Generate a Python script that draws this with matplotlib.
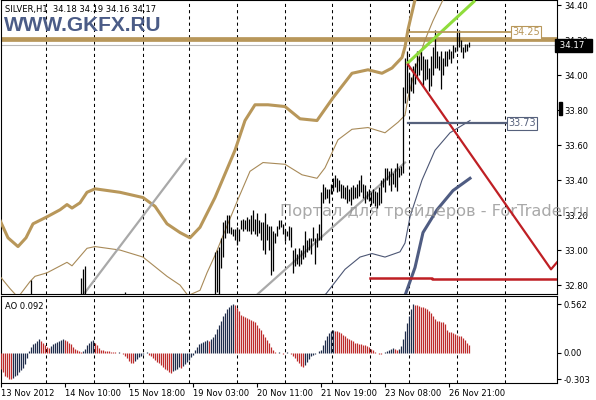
import matplotlib
matplotlib.use('Agg')
import matplotlib.pyplot as plt
import matplotlib.transforms as mtransforms
import numpy as np

plt.rcParams['font.family'] = ['DejaVu Sans']

# ---- price bars (H1), bar index 0..234 ----
highs = [
    32.50, 32.46, 32.42, 32.40, 32.38, 32.36, 32.38, 32.40, 32.42, 32.45,
    32.48, 32.52, 32.55, 32.60, 32.64, 32.83, 32.70, 32.68, 32.70, 32.72,
    32.68, 32.66, 32.64, 32.62, 32.65, 32.66, 32.68, 32.70, 32.71, 32.72,
    32.73, 32.72, 32.70, 32.68, 32.66, 32.64, 32.62, 32.62, 32.64, 32.70,
    32.84, 32.89, 32.91, 32.74, 32.72, 32.70, 32.68, 32.66, 32.64, 32.64,
    32.64, 32.65, 32.64, 32.65, 32.66, 32.65, 32.64, 32.66, 32.65, 32.64,
    32.66, 32.70, 32.76, 32.62, 32.58, 32.55, 32.52, 32.54, 32.56, 32.58,
    32.62, 32.63, 32.64, 32.62, 32.58, 32.55, 32.52, 32.50, 32.48, 32.46,
    32.44, 32.42, 32.40, 32.38, 32.40, 32.42, 32.44, 32.46, 32.44, 32.48,
    32.46, 32.50, 32.54, 32.58, 32.62, 32.64, 32.66, 32.68, 32.70, 32.69,
    32.70, 32.72, 32.71, 32.73, 32.72, 32.74, 32.74, 32.99, 33.00, 33.02,
    33.07, 33.16, 33.17, 33.20, 33.20, 33.13, 33.12, 33.12, 33.13, 33.12,
    33.17, 33.18, 33.17, 33.19, 33.18, 33.20, 33.23, 33.18, 33.21, 33.17,
    33.16, 33.16, 33.21, 33.15, 33.14, 33.14, 33.11, 33.10, 33.14, 33.17,
    33.17, 33.15, 33.12, 33.11, 33.14, 33.13, 33.00, 33.01, 32.98, 33.01,
    33.00, 33.03, 33.11, 33.06, 33.07, 33.07, 33.13, 33.07, 33.10, 33.15,
    33.33, 33.38, 33.36, 33.35, 33.35, 33.38, 33.41, 33.43, 33.41, 33.40,
    33.38, 33.37, 33.36, 33.37, 33.35, 33.36, 33.37, 33.36, 33.38, 33.40,
    33.43, 33.38, 33.37, 33.34, 33.35, 33.33, 33.35, 33.34, 33.33, 33.36,
    33.40, 33.41, 33.47, 33.47, 33.45, 33.47, 33.44, 33.47, 33.50, 33.47,
    33.48, 33.93, 34.10, 34.14, 34.01, 33.99, 34.05, 34.07, 34.14, 34.11,
    34.14, 34.11, 34.09, 34.09, 34.04, 34.11, 34.16, 34.26, 34.14, 34.11,
    34.14, 34.10, 34.14, 34.14, 34.15, 34.14, 34.17, 34.16, 34.25, 34.26,
    34.20, 34.16, 34.18, 34.18, 34.19,
]
lows = [
    32.40, 32.36, 32.33, 32.30, 32.28, 32.27, 32.29, 32.31, 32.34, 32.36,
    32.40, 32.44, 32.47, 32.52, 32.56, 32.62, 32.61, 32.60, 32.62, 32.63,
    32.58, 32.57, 32.56, 32.55, 32.57, 32.58, 32.60, 32.62, 32.63, 32.64,
    32.65, 32.63, 32.61, 32.59, 32.57, 32.56, 32.54, 32.55, 32.57, 32.62,
    32.66, 32.70, 32.72, 32.64, 32.63, 32.62, 32.60, 32.58, 32.57, 32.57,
    32.57, 32.58, 32.57, 32.58, 32.59, 32.58, 32.57, 32.58, 32.58, 32.57,
    32.58, 32.60, 32.62, 32.52, 32.49, 32.46, 32.44, 32.46, 32.48, 32.50,
    32.54, 32.56, 32.57, 32.54, 32.50, 32.47, 32.44, 32.42, 32.40, 32.38,
    32.36, 32.34, 32.32, 32.31, 32.33, 32.35, 32.37, 32.39, 32.36, 32.40,
    32.38, 32.42, 32.46, 32.50, 32.54, 32.56, 32.58, 32.60, 32.62, 32.61,
    32.62, 32.64, 32.63, 32.65, 32.64, 32.66, 32.66, 32.68, 32.76, 32.74,
    32.90, 32.96, 33.07, 33.10, 33.10, 33.09, 33.08, 33.06, 33.03, 33.05,
    33.12, 33.11, 33.12, 33.11, 33.11, 33.09, 33.11, 33.09, 33.08, 33.10,
    33.06, 33.00, 32.98, 33.06, 33.00, 32.86, 32.88, 33.04, 33.08, 33.12,
    33.13, 33.09, 33.05, 33.08, 33.06, 33.02, 32.87, 32.91, 32.92, 32.91,
    32.92, 32.95, 32.96, 32.99, 33.00, 32.98, 33.05, 32.92, 33.02, 33.06,
    33.06, 33.27, 33.29, 33.30, 33.27, 33.32, 33.34, 33.36, 33.33, 33.34,
    33.30, 33.30, 33.29, 33.27, 33.28, 33.26, 33.29, 33.30, 33.30, 33.31,
    33.33, 33.30, 33.27, 33.29, 33.28, 33.26, 33.27, 33.25, 33.24, 33.26,
    33.27, 33.36, 33.33, 33.40, 33.37, 33.34, 33.38, 33.36, 33.34, 33.42,
    33.43, 33.44, 33.84, 33.90, 33.86, 33.91, 33.90, 33.95, 33.99, 34.00,
    34.03, 33.94, 33.97, 33.98, 33.91, 33.94, 34.00, 34.04, 34.04, 34.03,
    33.92, 34.00, 34.05, 34.05, 34.09, 34.07, 34.10, 34.13, 34.14, 34.16,
    34.13, 34.10, 34.13, 34.14, 34.16,
]

# ---- Awesome Oscillator ----
ao = [
    -0.18, -0.22, -0.26, -0.28, -0.30, -0.303, -0.29, -0.27, -0.25, -0.22,
    -0.20, -0.17, -0.13, -0.06, 0.02, 0.07, 0.10, 0.12, 0.14, 0.16,
    0.14, 0.11, 0.09, 0.07, 0.06, 0.08, 0.10, 0.12, 0.13, 0.14,
    0.15, 0.16, 0.15, 0.14, 0.12, 0.10, 0.07, 0.05, 0.03, 0.02,
    0.01, 0.02, 0.05, 0.09, 0.12, 0.14, 0.15, 0.12, 0.09, 0.06,
    0.04, 0.03, 0.02, 0.02, 0.02, 0.01, 0.01, 0.01, 0.00, 0.01,
    0.00, -0.01, -0.03, -0.06, -0.09, -0.11, -0.12, -0.09, -0.07, -0.05,
    -0.03, -0.01, 0.00, 0.01, -0.02, -0.04, -0.06, -0.08, -0.10, -0.12,
    -0.14, -0.16, -0.18, -0.20, -0.22, -0.23, -0.21, -0.19, -0.18, -0.16,
    -0.17, -0.15, -0.13, -0.10, -0.08, -0.05, -0.02, 0.03, 0.07, 0.10,
    0.12, 0.13, 0.14, 0.15, 0.14, 0.16, 0.18, 0.22, 0.27, 0.32,
    0.37, 0.42, 0.46, 0.50, 0.53, 0.55, 0.56, 0.55, 0.52, 0.48,
    0.44, 0.42, 0.41, 0.40, 0.39, 0.38, 0.37, 0.36, 0.32, 0.29,
    0.26, 0.22, 0.18, 0.15, 0.11, 0.07, 0.03, 0.01, 0.00, 0.01,
    0.00, -0.01, 0.00, 0.01, 0.00, -0.01, -0.03, -0.06, -0.09, -0.12,
    -0.15, -0.16, -0.14, -0.10, -0.07, -0.04, -0.02, -0.01, 0.00, 0.02,
    0.04, 0.09, 0.15, 0.20, 0.23, 0.25, 0.26, 0.25, 0.25, 0.24,
    0.23, 0.21, 0.19, 0.17, 0.16, 0.15, 0.14, 0.12, 0.11, 0.10,
    0.10, 0.09, 0.09, 0.08, 0.07, 0.05, 0.03, 0.01, 0.00, -0.01,
    -0.01, 0.00, 0.01, 0.02, 0.04, 0.05, 0.06, 0.05, 0.04, 0.05,
    0.08, 0.16, 0.25, 0.34, 0.42, 0.50, 0.562, 0.555, 0.55, 0.54,
    0.53, 0.53, 0.52, 0.50, 0.48, 0.46, 0.42, 0.39, 0.37, 0.37,
    0.36, 0.36, 0.33, 0.26, 0.24, 0.24, 0.23, 0.22, 0.21, 0.20,
    0.19, 0.17, 0.15, 0.12, 0.09,
]

# ---- envelope bands, sampled (bar index, price) ----
upper_outer_x = [-0.5, 3.5, 8.5, 12.5, 16, 23, 29.5, 33, 35.5, 39.5, 43, 47, 59.5, 71, 77, 83,
                 89.5, 94.5, 99.5, 107, 117, 122, 127, 133.5, 142, 149.5, 158, 166, 175.5,
                 183.5, 190.5, 195.5, 200.5, 202, 203.5, 207, 215, 234]
upper_outer_y = [33.17, 33.07, 33.02, 33.07, 33.15, 33.19, 33.23, 33.26, 33.24, 33.27, 33.33,
                 33.35, 33.33, 33.30, 33.25, 33.15, 33.10, 33.07, 33.13, 33.30, 33.57, 33.74,
                 33.83, 33.83, 33.82, 33.75, 33.74, 33.87, 34.01, 34.03, 34.01, 34.04, 34.10,
                 34.16, 34.26, 34.43, 34.60, 34.75]
upper_inner_x = [-0.5, 4.5, 8.5, 14.5, 17, 23, 33, 35.5, 43, 47, 59.5, 71, 83, 89.5, 93.5, 99.5,
                 103, 107, 112, 118.5, 124.5, 131, 142, 150.5, 158, 162, 168.5, 175.5, 183.5,
                 192, 198.5, 202, 203.5, 207, 212, 216, 221, 234.5]
upper_inner_y = [32.85, 32.78, 32.73, 32.82, 32.85, 32.87, 32.93, 32.91, 33.01, 33.02, 33.00,
                 32.96, 32.85, 32.80, 32.74, 32.77, 32.87, 32.97, 33.11, 33.29, 33.45, 33.50,
                 33.49, 33.43, 33.41, 33.47, 33.63, 33.69, 33.70, 33.67, 33.73, 33.77, 33.87,
                 34.03, 34.20, 34.31, 34.43, 34.51]
lower_inner_x = [149.5, 162.5, 172, 179.5, 185.5, 192, 199.5, 202, 204.5, 210.5, 217, 224.5, 234.5]
lower_inner_y = [32.66, 32.75, 32.89, 32.96, 32.98, 32.96, 32.99, 33.04, 33.19, 33.40, 33.57,
                 33.67, 33.74]
lower_outer_x = [199.5, 202, 207, 211, 218, 226, 234.5]
lower_outer_y = [32.54, 32.74, 32.90, 33.10, 33.23, 33.34, 33.41]

# ---- drawn objects (bar index, price) ----
grey_trend1 = ([41.5, 92.5], [32.75, 33.52])
grey_trend2 = ([128.5, 202.0], [32.75, 33.50])
green_trend = ([203.5, 236.5], [34.07, 34.42])
red_trend = ([203.5, 275.0, 278.0], [34.06, 32.89, 32.93])
red_level = ([184.5, 215.5, 215.5, 278.0], [32.84, 32.84, 32.835, 32.835])
level_3420 = 34.205
bid = 34.17
level_3425 = 34.245
level_3373 = 33.725
levels_from, level_3425_to, level_3373_to = 203.5, 254.5, 252.5

grid_x = [22.5, 46.5, 71, 94, 118, 142, 165.5, 184.5, 204, 228, 252]
date_ticks = [0, 32, 64, 96, 128, 160, 192, 224]
date_labels = ['13 Nov 2012', '14 Nov 10:00', '15 Nov 18:00', '19 Nov 03:00',
               '20 Nov 11:00', '21 Nov 19:00', '23 Nov 08:00', '26 Nov 21:00']
price_ticks = [32.80, 33.00, 33.20, 33.40, 33.60, 33.80, 34.00, 34.20, 34.40]
ao_ticks = [0.562, 0.0, -0.303]
ao_tick_labels = ['0.562', '0.00', '-0.303']

TAN = '#b8975a'
SLATE = '#56617c'
NAVY = '#1f2c4a'
RED_AO = '#bd2b2b'
RED = '#bf1f24'

W, H = 596, 400
fig = plt.figure(figsize=(W / 100, H / 100), dpi=100)
ax = fig.add_axes([1 / W, 1 - 294 / H, 556 / W, 294 / H])
ax2 = fig.add_axes([1 / W, 1 - 383 / H, 556 / W, 87 / H])

idx = np.arange(len(highs))

# main panel
ax.set_xlim(0, 278)
ax.set_ylim(32.749, 34.4286)
for gx in grid_x:
    ax.axvline(gx, color='black', lw=0.75, ls=(0, (3, 3)), zorder=1)

ax.axhline(level_3420, color=TAN, lw=3.4, zorder=2)
ax.axhline(bid, color='#b9b9b9', lw=0.8, zorder=2)
ax.plot(upper_outer_x, upper_outer_y, color=TAN, lw=2.2, zorder=3, solid_joinstyle='round')
ax.plot(upper_inner_x, upper_inner_y, color='#a88a58', lw=0.8, zorder=3)
ax.plot(lower_inner_x, lower_inner_y, color='#4c5674', lw=0.8, zorder=3)
ax.plot(lower_outer_x, lower_outer_y, color='#4f5c82', lw=2.2, zorder=3, solid_joinstyle='round')
ax.plot(*grey_trend1, color='#a9a9a9', lw=1.6, zorder=3)
ax.plot(*grey_trend2, color='#a9a9a9', lw=1.6, zorder=3)

ax.text(0.502, 0.279, 'Портал для трейдеров - ForTrader.ru', transform=ax.transAxes,
        fontsize=11.7, color='#8c8c8c', alpha=0.75, va='center', ha='left', clip_on=False,
        zorder=3.5)

ax.vlines(idx, lows, highs, color='black', lw=0.9, zorder=4)

ax.plot(*green_trend, color='#8fdc3c', lw=2.2, zorder=5)
ax.plot(*red_trend, color=RED, lw=1.6, zorder=5)
ax.plot(*red_level, color=RED, lw=1.8, zorder=5)
ax.plot([levels_from, level_3425_to], [level_3425, level_3425], color=TAN, lw=1.3, zorder=5)
ax.plot([levels_from, level_3373_to], [level_3373, level_3373], color=SLATE, lw=1.6, zorder=5)
ax.text(level_3425_to + 1, level_3425, '34.25', color=TAN, fontsize=7, va='center', ha='left',
        bbox=dict(boxstyle='square,pad=0.15', fc='white', ec=TAN, lw=0.8), zorder=6)
ax.text(level_3373_to + 1, level_3373, '33.73', color=SLATE, fontsize=7, va='center', ha='left',
        bbox=dict(boxstyle='square,pad=0.15', fc='white', ec=SLATE, lw=0.8), zorder=6)

ax.text(0.008, 0.969, 'SILVER,H1  34.18 34.19 34.16 34.17', transform=ax.transAxes,
        fontsize=6, va='center', ha='left')
ax.text(0.006, 0.912, 'WWW.GKFX.RU', transform=ax.transAxes, fontsize=15,
        family='Liberation Sans', weight='bold', color='#4b5c87', va='center', ha='left')

ax.yaxis.tick_right()
ax.set_yticks(price_ticks)
ax.set_yticklabels(['%.2f' % v for v in price_ticks])
ax.tick_params(axis='y', labelsize=6, length=3, width=0.8, pad=2)
ax.set_xticks([])
blend = mtransforms.blended_transform_factory(ax.transAxes, ax.transData)
ax.text(1.0, bid, ' 34.17  ', transform=blend, color='white', fontsize=6.2, va='center',
        ha='left', bbox=dict(boxstyle='square,pad=0.25', fc='black', ec='black'),
        clip_on=False, zorder=10)
ax.add_patch(plt.Rectangle((1.003, 33.77), 0.006, 0.075, transform=blend, color='black',
                           clip_on=False, zorder=10))

# AO panel
ax2.set_xlim(0, 278)
ax2.set_ylim(-0.345, 0.655)
for gx in grid_x:
    ax2.axvline(gx, color='black', lw=0.75, ls=(0, (3, 3)), zorder=1)
ao_arr = np.array(ao)
up = np.concatenate([[False], ao_arr[1:] > ao_arr[:-1]])
cols = [NAVY if u else RED_AO for u in up]
ax2.vlines(idx, 0, ao_arr, colors=cols, lw=0.9, zorder=3)
ax2.text(0.008, 0.874, 'AO 0.092', transform=ax2.transAxes, fontsize=6, va='center', ha='left')
ax2.yaxis.tick_right()
ax2.set_yticks(ao_ticks)
ax2.set_yticklabels(ao_tick_labels)
ax2.tick_params(axis='y', labelsize=6, length=3, width=0.8, pad=2)
ax2.set_xticks(date_ticks)
ax2.set_xticklabels(date_labels, ha='left')
ax2.tick_params(axis='x', labelsize=6, length=3, width=0.8, pad=1.5)

for a in (ax, ax2):
    for s in a.spines.values():
        s.set_linewidth(0.8)

fig.savefig('out.png', dpi=100, facecolor='white')
